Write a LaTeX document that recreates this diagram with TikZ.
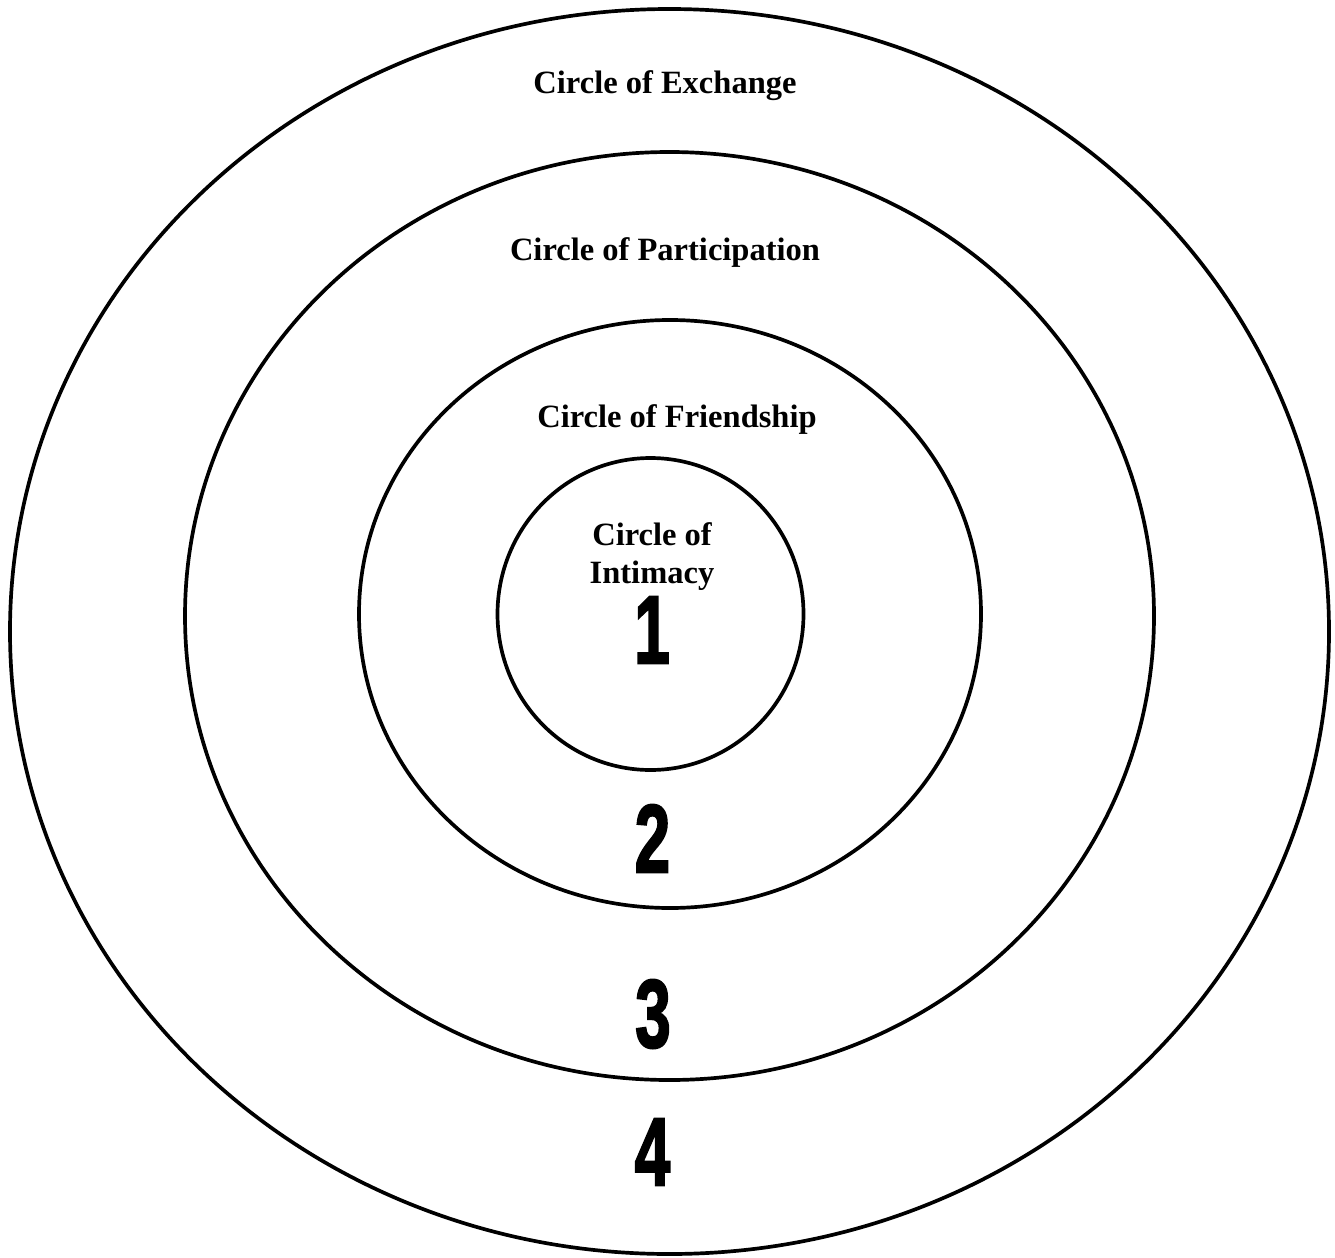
\documentclass[tikz,border=0pt]{standalone}
\usepackage{fontspec}
\setmainfont{Liberation Serif}
\newfontfamily\digitfont[BoldFeatures={FakeBold=2.5}]{Liberation Sans}
\usetikzlibrary{positioning}
\definecolor{Ink}{HTML}{000000}
\newcommand{\lblfont}{\fontsize{18.5}{21.6}\selectfont\bfseries}
\newcommand{\bignum}[1]{\scalebox{0.66}[1]{\digitfont\fontsize{55}{55}\selectfont\bfseries #1}}

\begin{document}
\begin{tikzpicture}[every node/.style={align=center,font=\lblfont,text=Ink,inner sep=0pt},
  ring/.style={draw=Ink,line width=2.1pt}]
  \useasboundingbox (0,0) rectangle (26.7,-25.14);
  \coordinate (exc) at (13.39,-12.63);
  \coordinate (par) at (13.39,-12.32);
  \coordinate (fri) at (13.40,-12.28);
  \coordinate (inti) at (13.01,-12.28);
  \draw[ring] (exc) ellipse [x radius=13.19, y radius=12.45];
  \draw[ring] (par) ellipse [x radius=9.69, y radius=9.28];
  \draw[ring] (fri) ellipse [x radius=6.22, y radius=5.88];
  \draw[ring] (inti) ellipse [x radius=3.06, y radius=3.12];
  \node[anchor=base] (excl) at (13.30,-1.86) {Circle of Exchange};
  \node[anchor=base] (parl) at (13.30,-5.20) {Circle of Participation};
  \node[anchor=base] (fril) at (13.54,-8.54) {Circle of Friendship};
  \node (intl) at (13.04,-11.13) {Circle of\\Intimacy};
  \node (n1) at (13.04,-12.60) {\bignum{1}};
  \node (n2) at (13.05,-16.77) {\bignum{2}};
  \node (n3) at (13.06,-20.28) {\bignum{3}};
  \node (n4) at (13.05,-23.04) {\bignum{4}};
\end{tikzpicture}
\end{document}
